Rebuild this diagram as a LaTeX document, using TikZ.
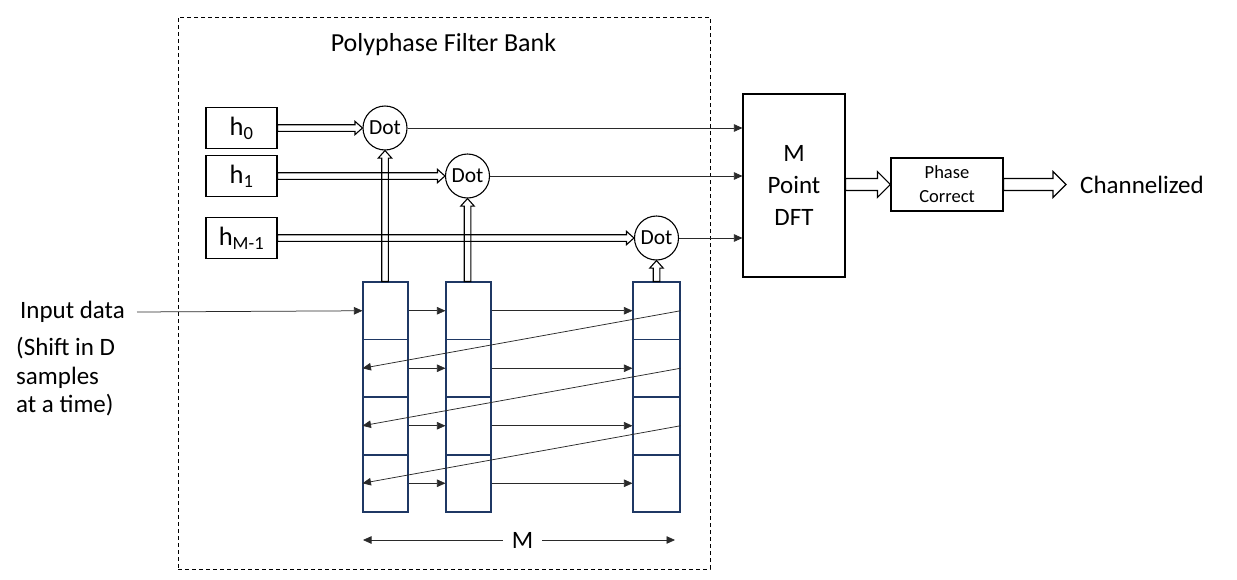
\documentclass[tikz,border=0pt]{standalone}
\usepackage{fontspec}
\setmainfont{Carlito}
\usetikzlibrary{arrows.meta,calc}
\definecolor{navy}{HTML}{1F3864}
\definecolor{lgray}{HTML}{2A2A2A}
\begin{document}
\begin{tikzpicture}[x=1pt,y=-1pt,
  big/.style={font=\fontsize{25}{30}\selectfont},
  dotfont/.style={font=\fontsize{21.5}{24}\selectfont},
  box/.style={draw, line width=1.1pt, inner sep=0pt},
  cell/.style={draw=navy, line width=1.1pt, minimum height=57.5pt, inner sep=0pt},
  dotc/.style={circle, draw, line width=1.1pt, minimum size=44pt, inner sep=0pt, dotfont},
  thin/.style={draw=lgray, line width=0.75pt, -{Triangle[length=8.5pt,width=7.5pt]}},
  fat/.style={draw, line width=1.1pt, line join=miter},
  fatH/.style n args={3}{to path={let \p1=(\tikztostart), \p2=(\tikztotarget) in
     (\x1,\y2+#1) -- (\x2-#3,\y2+#1) -- (\x2-#3,\y2+#2) -- (\x2,\y2) -- (\x2-#3,\y2-#2) -- (\x2-#3,\y2-#1) -- (\x1,\y2-#1) -- cycle}},
  fatV/.style n args={3}{to path={let \p1=(\tikztostart), \p2=(\tikztotarget) in
     (\x2+#1,\y1) -- (\x2+#1,\y2-#3) -- (\x2+#2,\y2-#3) -- (\x2,\y2) -- (\x2-#2,\y2-#3) -- (\x2-#1,\y2-#3) -- (\x2-#1,\y1) -- cycle}}
]
\useasboundingbox (0,0) rectangle (1237,579);

% dashed frame and title
\node[draw, dashed, dash pattern=on 4pt off 3pt, line width=1pt, minimum width=532pt, minimum height=552pt, inner sep=0pt] (pfb) at (444,293) {};
\node[font=\fontsize{26}{30}\selectfont] (title) at (443.5,45) {Polyphase Filter Bank};

% coefficient boxes
\node[box, font=\fontsize{26.5}{30}\selectfont, minimum width=71pt, minimum height=41pt] (h0) at (241.5,128) {h\textsubscript{0}};
\node[box, font=\fontsize{26.5}{30}\selectfont, minimum width=71pt, minimum height=41pt] (h1) at (241.5,176) {h\textsubscript{1}};
\node[box, font=\fontsize{26.5}{30}\selectfont, minimum width=71pt, minimum height=41pt] (hM) at (241.5,238) {h\textsubscript{M-1}};

% dot products
\node[dotc] (d0) at (385,128) {Dot};
\node[dotc] (d1) at (467.5,176) {Dot};
\node[dotc] (d2) at (656.5,238) {Dot};

% buffer cells
\foreach \c/\x/\w in {1/385.5/45, 2/468.5/45, 3/656.5/47}
  \foreach \r/\y in {1/310.75, 2/368.25, 3/425.75, 4/483.25}
    \node[cell, minimum width=\w] (c\c\r) at (\x,\y) {};
\foreach \c in {1,2,3}
  \draw[navy, line width=2.2pt] (c\c3.south west) -- (c\c3.south east);

% input text
\node[big, anchor=east, inner xsep=12pt, inner ysep=0pt] (inp) at (137,312) {Input data};
\node[big, anchor=west, align=left, inner sep=0pt, font=\fontsize{25}{28.5}\selectfont] (shift) at (16,377) {(Shift in D\\samples\\at a time)};

% shift arrows
\draw[thin] (inp.east) -- (c11.west);
\foreach \r in {1,...,4} {
  \draw[thin] (c1\r.east) -- (c2\r.west);
  \draw[thin] (c2\r.east) -- (c3\r.west);
}
\foreach \r/\n in {1/2, 2/3, 3/4}
  \draw[thin] (c3\r.east) -- (c1\n.west);

% double arrows into dot products
\draw[fat] (h0.east) to[fatH={3.3pt}{6.7pt}{7.5pt}] (d0.west);
\draw[fat] (h1.east) to[fatH={3.3pt}{6.7pt}{7.5pt}] (d1.west);
\draw[fat] (hM.east) to[fatH={3.3pt}{6.7pt}{7.5pt}] (d2.west);
\draw[fat] (c11.north) to[fatV={3.3pt}{6.7pt}{7.5pt}] (d0.south);
\draw[fat] (c21.north) to[fatV={3.3pt}{6.7pt}{7.5pt}] (d1.south);
\draw[fat] (c31.north) to[fatV={3.3pt}{6.7pt}{7.5pt}] (d2.south);

% M dimension
\node[big, inner xsep=9pt] (mlab) at (522.5,540) {M};
\coordinate (mL) at (363,540);
\coordinate (mR) at (675,540);
\draw[thin] (mlab.west) -- (mL);
\draw[thin] (mlab.east) -- (mR);

% DFT and phase correction
\node[box, big, align=center, minimum width=102pt, minimum height=183pt, font=\fontsize{25}{32}\selectfont] (dft) at (794,185.5) {M\\Point\\DFT};
\node[box, align=center, minimum width=112pt, minimum height=53pt, font=\fontsize{18.5}{24}\selectfont] (pc) at (947,184.5) {Phase\\Correct};
\node[big, anchor=west, inner xsep=14pt, inner ysep=0pt] (ch) at (1066,184.5) {Channelized};

\draw[thin] (d0.east) -- (d0.east -| dft.west);
\draw[thin] (d1.east) -- (d1.east -| dft.west);
\draw[thin] (d2.east) -- (d2.east -| dft.west);

\draw[fat] (dft.east) to[fatH={6pt}{13pt}{13pt}] (pc.west);
\draw[fat] (pc.east) to[fatH={6pt}{13pt}{13pt}] (ch.west);
\end{tikzpicture}
\end{document}
